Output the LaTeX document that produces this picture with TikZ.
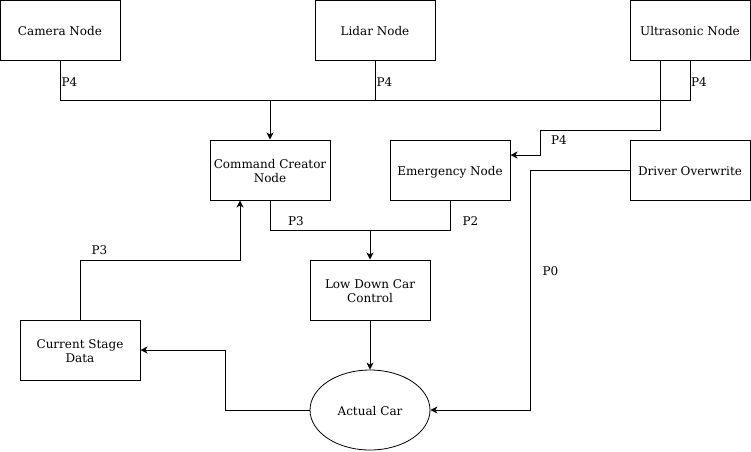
\documentclass[tikz,border=0pt]{standalone}
\usepackage{fontspec}
\setmainfont{DejaVu Serif}
\usetikzlibrary{shapes.geometric,arrows.meta}
\tikzset{
  box/.style={draw, line width=1pt, minimum width=120pt, minimum height=60pt, align=center, inner sep=0pt, font=\fontsize{12}{14}\selectfont, text height=12.5pt, text depth=2.5pt},
  box2/.style={box, text height=26.5pt},
  oval/.style={draw, ellipse, line width=0.8pt, minimum width=120pt, minimum height=80pt, inner sep=0pt, font=\fontsize{12}{14}\selectfont, text height=12.5pt, text depth=2.5pt},
  conn/.style={line width=1pt},
  arr/.style={line width=1pt, -{Stealth[length=7pt,width=7pt,inset=2pt]}},
  lbl/.style={font=\fontsize{12}{14}\selectfont, inner sep=0pt}
}
\begin{document}
\begin{tikzpicture}[x=1pt,y=-1pt]
\useasboundingbox (0,0) rectangle (751,451);
\node[box] (cam) at (60,30) {Camera Node};
\node[box] (lid) at (375,30) {Lidar Node};
\node[box] (us) at (690,30) {Ultrasonic Node};
\node[box2] (ccn) at (270,170) {Command Creator\\Node};
\node[box] (em) at (450,170) {Emergency Node};
\node[box] (dov) at (690,170) {Driver Overwrite};
\node[box2] (ldc) at (370,290) {Low Down Car\\Control};
\node[box2] (csd) at (80,350) {Current Stage\\Data};
\node[oval] (car) at (370,410) {Actual Car};

\coordinate (j1) at (270,100);
\coordinate (j2) at (370,230);
\coordinate (j3) at (240,260);
\coordinate (j4) at (225,350);
\coordinate (j5) at (530,410);
\coordinate (c1) at (540,130);

\draw[conn] (cam.south) |- (j1);
\draw[conn] (us.south) |- (j1);
\draw[conn] (lid.south) -- (lid.south |- j1);
\draw[arr] (j1) -- (ccn.north);
\draw[arr] ([xshift=-30pt]us.south) |- (c1) |- ([yshift=15pt]em.east);
\draw[conn] (ccn.south) |- (j2);
\draw[conn] (em.south) |- (j2);
\draw[arr] (j2) -- (ldc.north);
\draw[arr] (csd.north) |- (j3) -- (j3 |- ccn.south);
\draw[arr] (ldc.south) -- (car.north);
\draw[arr] (car.west) -| (j4) -- (csd.east);
\draw[arr] (dov.west) -| (j5) -- (car.east);

\node[lbl] (l1) at (69.5,82) {P4};
\node[lbl] (l2) at (384.5,82) {P4};
\node[lbl] (l3) at (699,82) {P4};
\node[lbl] (l4) at (559,140) {P4};
\node[lbl] (l5) at (296,221) {P3};
\node[lbl] (l6) at (470.5,221) {P2};
\node[lbl] (l7) at (550.5,271) {P0};
\node[lbl] (l8) at (99.5,250) {P3};
\end{tikzpicture}
\end{document}
